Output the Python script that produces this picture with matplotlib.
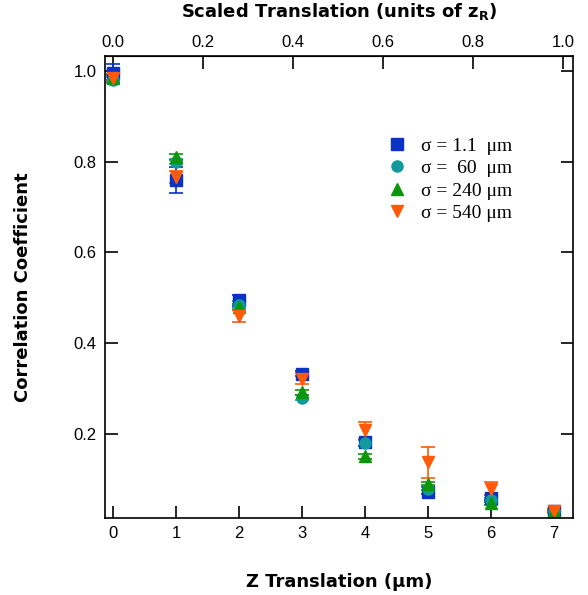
import numpy as np
import matplotlib
matplotlib.use('Agg')
import matplotlib.pyplot as plt
from matplotlib.lines import Line2D

plt.rcParams['font.family'] = ['Liberation Sans', 'DejaVu Sans']
plt.rcParams['mathtext.fontset'] = 'custom'
plt.rcParams['mathtext.bf'] = 'DejaVu Sans:bold'
plt.rcParams['mathtext.rm'] = 'DejaVu Sans'

# z translation in microns
z = [0, 1, 2, 3, 4, 5, 6, 7]
z_rayleigh = 7.14  # um, top axis scale

# correlation coefficient for each beam size
corr_1p1 = [0.995, 0.760, 0.495, 0.333, 0.182, 0.072, 0.060, 0.030]
err_1p1 = [0.020, 0.028, 0.012, 0.006, 0.008, 0.005, 0.006, 0.003]
corr_60 = [0.980, 0.800, 0.485, 0.280, 0.180, 0.080, 0.055, 0.030]
err_60 = [0.006, 0.006, 0.008, 0.006, 0.006, 0.004, 0.004, 0.003]
corr_240 = [0.985, 0.810, 0.480, 0.292, 0.151, 0.091, 0.047, 0.031]
err_240 = [0.005, 0.006, 0.006, 0.006, 0.005, 0.004, 0.004, 0.003]
corr_540 = [0.985, 0.766, 0.460, 0.322, 0.208, 0.138, 0.080, 0.030]
err_540 = [0.008, 0.013, 0.014, 0.012, 0.018, 0.034, 0.015, 0.003]

labels = [u'\u03c3 = 1.1  \u03bcm', u'\u03c3 =  60  \u03bcm',
          u'\u03c3 = 240 \u03bcm', u'\u03c3 = 540 \u03bcm']

fig = plt.figure(figsize=(5.88, 5.95), dpi=100)
ax = fig.add_axes([0.1786, 0.1294, 0.7959, 0.7766])

series = [
    (corr_1p1, err_1p1, 's', '#0a32c8', 8),
    (corr_60, err_60, 'o', '#12999c', 8),
    (corr_240, err_240, '^', '#0c960c', 8.5),
    (corr_540, err_540, 'v', '#ff5a0a', 8.5),
]
handles = []
for (vals, errs, mk, col, ms), lab in zip(series, labels):
    ax.errorbar(z, vals, yerr=errs, fmt=mk, color=col, ms=ms, mec=col,
                ecolor=col, elinewidth=1.2, capsize=5, capthick=1.2)
    # legend shows only the marker
    handles.append(Line2D([], [], ls='none', marker=mk, color=col, ms=ms,
                          mec=col, label=lab))

ax.set_xlim(-0.13, 7.3)
ax.set_ylim(0.015, 1.033)
ax.set_xticks(range(8))
ax.set_yticks([0.2, 0.4, 0.6, 0.8, 1.0])
ax.set_yticklabels(['0.2', '0.4', '0.6', '0.8', '1.0'])
ax.tick_params(direction='in', length=9, width=1.2, labelsize=12,
               right=True, top=False, pad=6)
for sp in ax.spines.values():
    sp.set_linewidth(1.2)

top = ax.secondary_xaxis('top', functions=(lambda x: x / z_rayleigh,
                                           lambda s: s * z_rayleigh))
top.set_xticks([0.0, 0.2, 0.4, 0.6, 0.8, 1.0])
top.set_xticklabels(['0.0', '0.2', '0.4', '0.6', '0.8', '1.0'])
top.tick_params(direction='in', length=9, width=1.2, labelsize=12, pad=4)

lab_font = dict(family='DejaVu Sans', fontsize=13, fontweight='bold')
top.set_xlabel(r'Scaled Translation (units of z$_{\mathbf{R}}$)',
               labelpad=13, **lab_font)
ax.set_xlabel(u'Z Translation (\u03bcm)', labelpad=23, **lab_font)
ax.set_ylabel('Correlation Coefficient', labelpad=30, **lab_font)

ax.legend(handles=handles, loc='upper left',
          bbox_to_anchor=(0.555, 0.862), frameon=False,
          prop={'family': 'Liberation Serif', 'size': 14},
          handletextpad=0.5, labelspacing=0.25, handlelength=1.5)

fig.savefig('out.png', dpi=100)
